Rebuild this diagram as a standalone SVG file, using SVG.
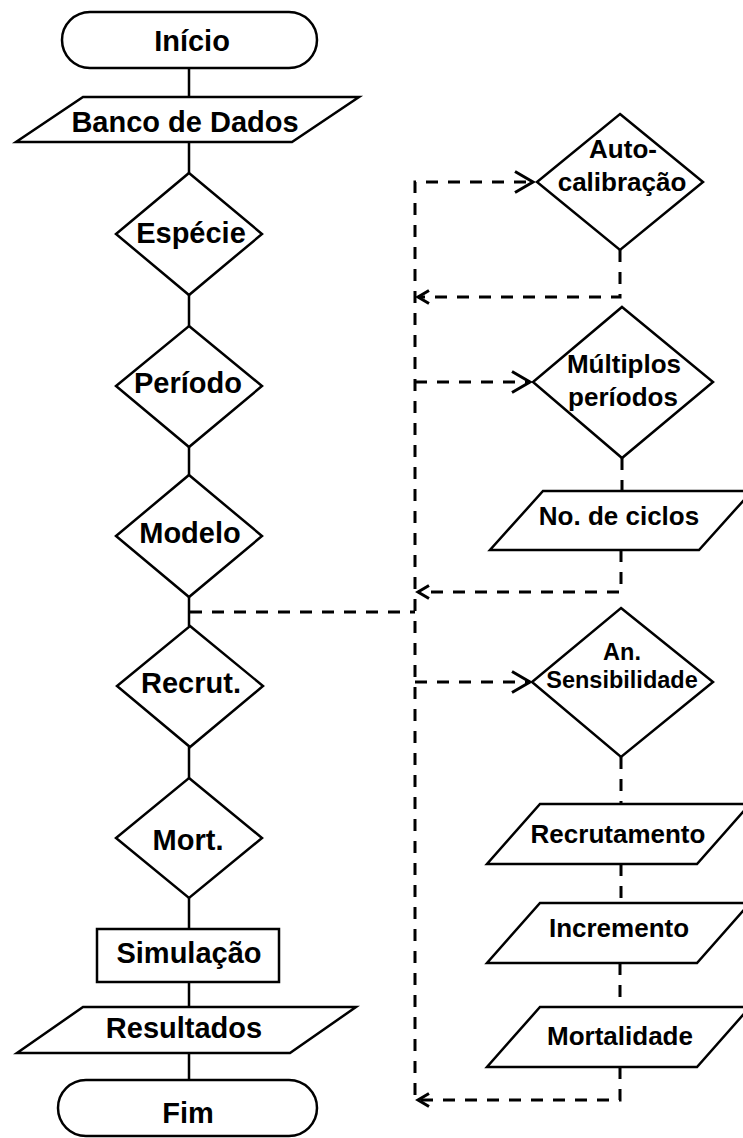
<svg xmlns="http://www.w3.org/2000/svg" width="743" height="1138" viewBox="0 0 743 1138">
<style>
.shape{fill:#fff;stroke:#000;stroke-width:2.5;stroke-linejoin:miter}
.solid{fill:none;stroke:#000;stroke-width:2.5}
.dash{fill:none;stroke:#000;stroke-width:3;stroke-dasharray:12 10}
text{font-family:"Liberation Sans",Arial,sans-serif;font-weight:bold;fill:#000;text-anchor:middle}
.l{font-size:29px}
.r{font-size:26px}
.s{font-size:23.5px}
</style>
<defs>
<marker id="fwd" markerUnits="userSpaceOnUse" markerWidth="24" markerHeight="26" refX="20" refY="12" orient="auto" overflow="visible">
<path d="M2,1.5 L20,12 L2,22.5" fill="none" stroke="#000" stroke-width="3"/>
</marker>
<marker id="ret" markerUnits="userSpaceOnUse" markerWidth="16" markerHeight="18" refX="14" refY="8" orient="auto" overflow="visible">
<path d="M3,1.5 L14,8 L3,14.5" fill="none" stroke="#000" stroke-width="3"/>
</marker>
</defs>
<rect width="743" height="1138" fill="#fff"/>
<g id="connectors">
<path class="solid" d="M189,68 V97 M189,142 V173 M189,295 V326 M189,447 V475 M189,597 V626 M189,747 V778 M189,898 V929 M189,982 V1007 M189,1053 V1080"/>
<path class="dash" d="M190,612 H415"/>
<path class="dash" d="M415,1095 V182 H533" marker-end="url(#fwd)"/>
<path class="dash" d="M620,250 V297 H418" marker-end="url(#ret)"/>
<path class="dash" d="M415,382 H530" marker-end="url(#fwd)"/>
<path class="dash" d="M622,458 V491"/>
<path class="dash" d="M621,550 V592 H418" marker-end="url(#ret)"/>
<path class="dash" d="M415,682 H530" marker-end="url(#fwd)"/>
<path class="dash" d="M621,757 V804 M621,864 V903 M620,963 V1007"/>
<path class="dash" d="M620,1067 V1100 H418" marker-end="url(#ret)"/>
</g>
<g id="inicio">
<rect class="shape" x="62" y="12" width="255" height="56" rx="28" ry="28"/>
<text class="l" x="192" y="51">Início</text>
</g>
<g id="banco">
<polygon class="shape" points="83,97 359,97 292,142 16,142"/>
<text class="l" x="185" y="132">Banco de Dados</text>
</g>
<g id="especie">
<polygon class="shape" points="189,173 262,234 189,295 116,234"/>
<text class="l" x="191" y="243">Espécie</text>
</g>
<g id="periodo">
<polygon class="shape" points="189,326 262,386 189,447 116,386"/>
<text class="l" x="188" y="393">Período</text>
</g>
<g id="modelo">
<polygon class="shape" points="189,475 262,536 189,597 116,536"/>
<text class="l" x="190" y="543">Modelo</text>
</g>
<g id="recrut">
<polygon class="shape" points="190,626 263,686 190,747 117,686"/>
<text class="l" x="191" y="693">Recrut.</text>
</g>
<g id="mort">
<polygon class="shape" points="189,778 262,838 189,898 116,838"/>
<text class="l" x="188" y="850">Mort.</text>
</g>
<g id="simulacao">
<rect class="shape" x="97" y="929" width="182" height="53"/>
<text class="l" x="189" y="963">Simulação</text>
</g>
<g id="resultados">
<polygon class="shape" points="83,1007 356,1007 290,1053 17,1053"/>
<text class="l" x="184" y="1038">Resultados</text>
</g>
<g id="fim">
<rect class="shape" x="58" y="1080" width="259" height="56" rx="28" ry="28"/>
<text class="l" x="188" y="1123">Fim</text>
</g>
<g id="autocalibracao">
<polygon class="shape" points="620,114 703,182 620,250 537,182"/>
<text class="r" x="623" y="158">Auto-</text>
<text class="r" x="622" y="191">calibração</text>
</g>
<g id="multiplos">
<polygon class="shape" points="622,307 713,382 622,458 533,382"/>
<text class="r" x="624" y="373">Múltiplos</text>
<text class="r" x="623" y="406">períodos</text>
</g>
<g id="ciclos">
<polygon class="shape" points="543,491 752,491 699,550 490,550"/>
<text class="r" x="619" y="525">No. de ciclos</text>
</g>
<g id="sensibilidade">
<polygon class="shape" points="621,608 713,682 621,757 532,682"/>
<text class="s" x="622" y="660">An.</text>
<text class="s" x="622" y="688">Sensibilidade</text>
</g>
<g id="recrutamento">
<polygon class="shape" points="540,804 750,804 697,864 487,864"/>
<text class="r" x="618" y="843">Recrutamento</text>
</g>
<g id="incremento">
<polygon class="shape" points="540,903 750,903 697,963 487,963"/>
<text class="r" x="619" y="937">Incremento</text>
</g>
<g id="mortalidade">
<polygon class="shape" points="540,1007 750,1007 697,1067 487,1067"/>
<text class="r" x="620" y="1045">Mortalidade</text>
</g>
</svg>
